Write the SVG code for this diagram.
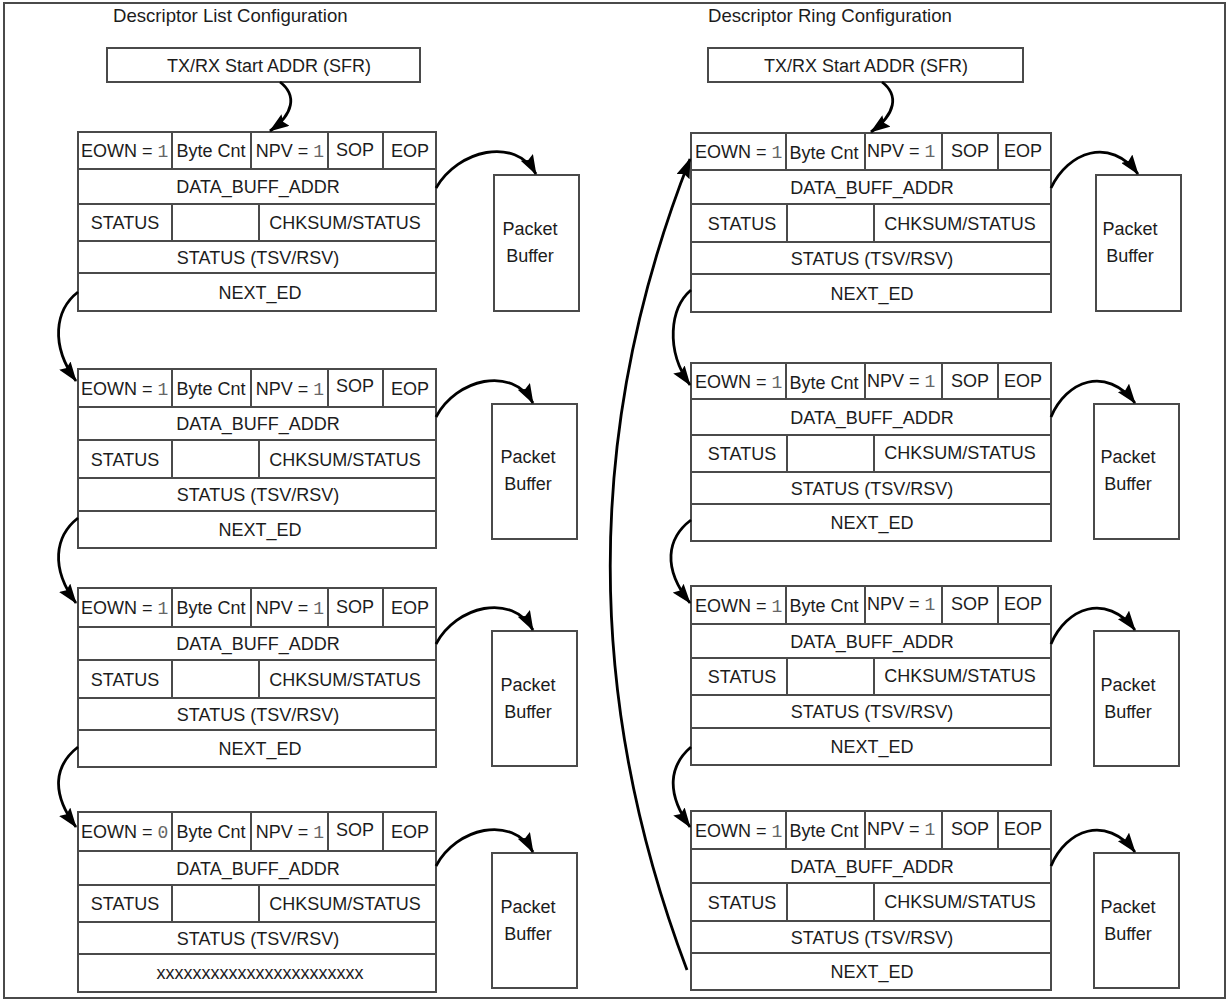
<svg xmlns="http://www.w3.org/2000/svg" width="1228" height="1001" viewBox="0 0 1228 1001">
<style>
text{font-family:"Liberation Sans",Arial,sans-serif;font-size:18px;fill:#1c1c1c}
.t{font-size:18.6px}
.c{text-anchor:middle}
.m{font-family:"Liberation Mono","DejaVu Sans Mono",monospace;fill:#666}
.box{fill:#fff;stroke:#4a4a4a;stroke-width:2}
.ln{fill:none;stroke:#4a4a4a;stroke-width:2}
.arr{fill:none;stroke:#000;stroke-width:2.8;marker-end:url(#ah)}
</style>
<defs>
<marker id="ah" viewBox="0 0 20 14" refX="19" refY="7" markerWidth="20" markerHeight="14" markerUnits="userSpaceOnUse" orient="auto">
<path d="M0,0 L20,7 L0,14 L3,7 z" fill="#000"/>
</marker>
</defs>
<rect x="0" y="0" width="1228" height="1001" fill="#fff"/>
<rect id="frame" x="4" y="3" width="1221" height="995" fill="none" stroke="#4a4a4a" stroke-width="2"/>

<g id="title-list"><text class="t" x="113" y="22">Descriptor List Configuration</text></g>
<g id="title-ring"><text class="t" x="708" y="22">Descriptor Ring Configuration</text></g>

<g id="sfr-list"><rect class="box" x="107" y="48" width="313" height="34"/><text class="c" x="269" y="72">TX/RX Start ADDR (SFR)</text></g>
<g id="sfr-ring"><rect class="box" x="708" y="48" width="315" height="34"/><text class="c" x="866" y="72">TX/RX Start ADDR (SFR)</text></g>

<!-- Left descriptors -->
<g id="list-desc1">
<rect class="box" x="78" y="132" width="358" height="179"/>
<path class="ln" d="M78,169H436M78,204H436M78,241H436M78,273H436M172,132V169M251,132V169M328,132V169M383,132V169M172,204V241M259,204V241"/>
<text x="81" y="157">EOWN = <tspan class="m">1</tspan></text>
<text class="c" x="211" y="157">Byte Cnt</text>
<text class="c" x="290" y="157">NPV = <tspan class="m">1</tspan></text>
<text class="c" x="355" y="156">SOP</text>
<text class="c" x="410" y="157">EOP</text>
<text class="c" x="258" y="193">DATA_BUFF_ADDR</text>
<text class="c" x="125" y="229">STATUS</text>
<text class="c" x="345" y="229">CHKSUM/STATUS</text>
<text class="c" x="258" y="263.5">STATUS (TSV/RSV)</text>
<text class="c" x="260" y="298.5">NEXT_ED</text>
</g>
<g id="list-desc2">
<rect class="box" x="78" y="369" width="358" height="179"/>
<path class="ln" d="M78,407H436M78,440H436M78,478H436M78,511H436M172,369V407M251,369V407M328,369V407M383,369V407M172,440V478M259,440V478"/>
<text x="81" y="394.5">EOWN = <tspan class="m">1</tspan></text>
<text class="c" x="211" y="394.5">Byte Cnt</text>
<text class="c" x="290" y="394.5">NPV = <tspan class="m">1</tspan></text>
<text class="c" x="355" y="392">SOP</text>
<text class="c" x="410" y="394.5">EOP</text>
<text class="c" x="258" y="430">DATA_BUFF_ADDR</text>
<text class="c" x="125" y="465.5">STATUS</text>
<text class="c" x="345" y="465.5">CHKSUM/STATUS</text>
<text class="c" x="258" y="501">STATUS (TSV/RSV)</text>
<text class="c" x="260" y="536">NEXT_ED</text>
</g>
<g id="list-desc3">
<rect class="box" x="78" y="588" width="358" height="179"/>
<path class="ln" d="M78,627H436M78,660H436M78,698H436M78,730H436M172,588V627M251,588V627M328,588V627M383,588V627M172,660V698M259,660V698"/>
<text x="81" y="614">EOWN = <tspan class="m">1</tspan></text>
<text class="c" x="211" y="614">Byte Cnt</text>
<text class="c" x="290" y="614">NPV = <tspan class="m">1</tspan></text>
<text class="c" x="355" y="613">SOP</text>
<text class="c" x="410" y="614">EOP</text>
<text class="c" x="258" y="650">DATA_BUFF_ADDR</text>
<text class="c" x="125" y="685.5">STATUS</text>
<text class="c" x="345" y="685.5">CHKSUM/STATUS</text>
<text class="c" x="258" y="720.5">STATUS (TSV/RSV)</text>
<text class="c" x="260" y="755">NEXT_ED</text>
</g>
<g id="list-desc4">
<rect class="box" x="78" y="812" width="358" height="180"/>
<path class="ln" d="M78,851H436M78,885H436M78,922H436M78,954H436M172,812V851M251,812V851M328,812V851M383,812V851M172,885V922M259,885V922"/>
<text x="81" y="838">EOWN = <tspan class="m">0</tspan></text>
<text class="c" x="211" y="838">Byte Cnt</text>
<text class="c" x="290" y="838">NPV = <tspan class="m">1</tspan></text>
<text class="c" x="355" y="836">SOP</text>
<text class="c" x="410" y="838">EOP</text>
<text class="c" x="258" y="874.5">DATA_BUFF_ADDR</text>
<text class="c" x="125" y="910">STATUS</text>
<text class="c" x="345" y="910">CHKSUM/STATUS</text>
<text class="c" x="258" y="944.5">STATUS (TSV/RSV)</text>
<text class="c" x="260" y="979">xxxxxxxxxxxxxxxxxxxxxxx</text>
</g>

<!-- Left packet buffers -->
<g id="list-pkt1"><rect class="box" x="494" y="175" width="85" height="136"/><text class="c" x="530" y="235">Packet</text><text class="c" x="530" y="262">Buffer</text></g>
<g id="list-pkt2"><rect class="box" x="492" y="404" width="85" height="135"/><text class="c" x="528" y="463">Packet</text><text class="c" x="528" y="490">Buffer</text></g>
<g id="list-pkt3"><rect class="box" x="492" y="631" width="85" height="135"/><text class="c" x="528" y="691">Packet</text><text class="c" x="528" y="718">Buffer</text></g>
<g id="list-pkt4"><rect class="box" x="492" y="853" width="85" height="135"/><text class="c" x="528" y="913">Packet</text><text class="c" x="528" y="940">Buffer</text></g>

<!-- Right descriptors -->
<g id="ring-desc1">
<rect class="box" x="691" y="133" width="360" height="179"/>
<path class="ln" d="M691,170H1051M691,204H1051M691,242H1051M691,274H1051M786,133V170M865,133V170M942,133V170M998,133V170M787,204V242M874,204V242"/>
<text x="695" y="158">EOWN = <tspan class="m">1</tspan></text>
<text class="c" x="824" y="159">Byte Cnt</text>
<text x="867" y="157">NPV = <tspan class="m">1</tspan></text>
<text class="c" x="970" y="157">SOP</text>
<text class="c" x="1023" y="157">EOP</text>
<text class="c" x="872" y="193.5">DATA_BUFF_ADDR</text>
<text class="c" x="742" y="229.5">STATUS</text>
<text class="c" x="960" y="229.5">CHKSUM/STATUS</text>
<text class="c" x="872" y="264.5">STATUS (TSV/RSV)</text>
<text class="c" x="872" y="299.5">NEXT_ED</text>
</g>
<g id="ring-desc2">
<rect class="box" x="691" y="363" width="360" height="178"/>
<path class="ln" d="M691,399H1051M691,435H1051M691,472H1051M691,504H1051M786,363V399M865,363V399M942,363V399M998,363V399M787,435V472M874,435V472"/>
<text x="695" y="388">EOWN = <tspan class="m">1</tspan></text>
<text class="c" x="824" y="389">Byte Cnt</text>
<text x="867" y="387">NPV = <tspan class="m">1</tspan></text>
<text class="c" x="970" y="387">SOP</text>
<text class="c" x="1023" y="387">EOP</text>
<text class="c" x="872" y="423.5">DATA_BUFF_ADDR</text>
<text class="c" x="742" y="460">STATUS</text>
<text class="c" x="960" y="459">CHKSUM/STATUS</text>
<text class="c" x="872" y="494.5">STATUS (TSV/RSV)</text>
<text class="c" x="872" y="529">NEXT_ED</text>
</g>
<g id="ring-desc3">
<rect class="box" x="691" y="586" width="360" height="179"/>
<path class="ln" d="M691,624H1051M691,658H1051M691,695H1051M691,728H1051M786,586V624M865,586V624M942,586V624M998,586V624M787,658V695M874,658V695"/>
<text x="695" y="611.5">EOWN = <tspan class="m">1</tspan></text>
<text class="c" x="824" y="612">Byte Cnt</text>
<text x="867" y="610">NPV = <tspan class="m">1</tspan></text>
<text class="c" x="970" y="610">SOP</text>
<text class="c" x="1023" y="610">EOP</text>
<text class="c" x="872" y="647.5">DATA_BUFF_ADDR</text>
<text class="c" x="742" y="683">STATUS</text>
<text class="c" x="960" y="682">CHKSUM/STATUS</text>
<text class="c" x="872" y="718">STATUS (TSV/RSV)</text>
<text class="c" x="872" y="753">NEXT_ED</text>
</g>
<g id="ring-desc4">
<rect class="box" x="691" y="811" width="360" height="179"/>
<path class="ln" d="M691,849H1051M691,883H1051M691,921H1051M691,953H1051M786,811V849M865,811V849M942,811V849M998,811V849M787,883V921M874,883V921"/>
<text x="695" y="836.5">EOWN = <tspan class="m">1</tspan></text>
<text class="c" x="824" y="837">Byte Cnt</text>
<text x="867" y="835">NPV = <tspan class="m">1</tspan></text>
<text class="c" x="970" y="835">SOP</text>
<text class="c" x="1023" y="835">EOP</text>
<text class="c" x="872" y="872.5">DATA_BUFF_ADDR</text>
<text class="c" x="742" y="908.5">STATUS</text>
<text class="c" x="960" y="907.5">CHKSUM/STATUS</text>
<text class="c" x="872" y="943.5">STATUS (TSV/RSV)</text>
<text class="c" x="872" y="978">NEXT_ED</text>
</g>

<!-- Right packet buffers -->
<g id="ring-pkt1"><rect class="box" x="1096" y="175" width="85" height="136"/><text class="c" x="1130" y="235">Packet</text><text class="c" x="1130" y="262">Buffer</text></g>
<g id="ring-pkt2"><rect class="box" x="1094" y="404" width="85" height="135"/><text class="c" x="1128" y="463">Packet</text><text class="c" x="1128" y="490">Buffer</text></g>
<g id="ring-pkt3"><rect class="box" x="1094" y="631" width="85" height="135"/><text class="c" x="1128" y="691">Packet</text><text class="c" x="1128" y="718">Buffer</text></g>
<g id="ring-pkt4"><rect class="box" x="1094" y="853" width="85" height="135"/><text class="c" x="1128" y="913">Packet</text><text class="c" x="1128" y="940">Buffer</text></g>

<g id="connectors">
<path class="arr" d="M280,82 C297,95 294,114 270,131"/>
<path class="arr" d="M882,82 C899,95 896,114 871,132"/>
<path class="arr" d="M436,188 C458,150 515,136 536,174"/>
<path class="arr" d="M436,417 C456,379 512,365 533,403"/>
<path class="arr" d="M436,644 C456,606 512,592 533,630"/>
<path class="arr" d="M436,866 C456,828 512,814 533,852"/>
<path class="arr" d="M1051,188 C1068,152 1110,136 1138,174"/>
<path class="arr" d="M1051,417 C1066,381 1106,365 1135,403"/>
<path class="arr" d="M1051,644 C1066,608 1106,592 1135,630"/>
<path class="arr" d="M1051,866 C1066,830 1106,814 1135,852"/>
<path class="arr" d="M78,292 C55,310 50,345 76,381"/>
<path class="arr" d="M78,518 C55,536 50,568 76,603"/>
<path class="arr" d="M78,747 C55,765 50,792 76,827"/>
<path class="arr" d="M691,290 C670,308 665,350 690,385"/>
<path class="arr" d="M691,520 C667,538 662,568 690,603"/>
<path class="arr" d="M691,747 C670,765 665,792 690,827"/>
<path class="arr" d="M687,970 Q532,560 690,159"/>
</g>
</svg>
